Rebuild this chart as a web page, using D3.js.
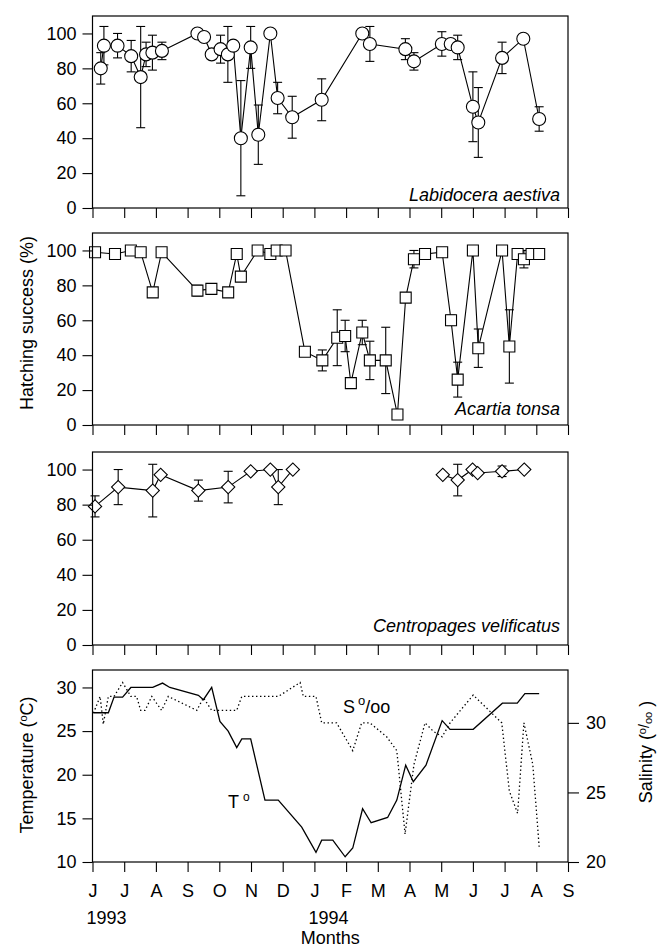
<!DOCTYPE html>
<html>
<head>
<meta charset="utf-8">
<script src="https://cdn.jsdelivr.net/npm/d3@7"></script>
<style>
body { margin: 0; background: #fff; }
svg { font-family: "Liberation Sans", Arial, sans-serif; }
</style>
</head>
<body>
<svg width="660" height="947"></svg>
<script>
// month tick labels, Jun 1993 .. Sep 1994
const months = ['J', 'J', 'A', 'S', 'O', 'N', 'D', 'J', 'F', 'M', 'A', 'M', 'J', 'J', 'A', 'S'];

// Labidocera aestiva (x = months since 1 Jun 1993)
const laMonth = [0.26, 0.36, 0.79, 1.22, 1.52, 1.69, 1.89, 2.19, 3.31, 3.52, 3.76, 4.04, 4.27, 4.44, 4.68, 4.99, 5.23, 5.61, 5.84, 6.30, 7.23, 8.51, 8.75, 9.87, 10.14, 11.02, 11.30, 11.52, 12.00, 12.17, 12.92, 13.59, 14.09];
const laHatch = [80, 93, 93, 87, 75, 88, 89, 90, 100, 98, 88, 91, 88, 93, 40, 92, 42, 100, 63, 52, 62, 100, 94, 91, 84, 94, 94, 92, 58, 49, 86, 97, 51];
const laErr = [9, 11, 7, 9, 29, 7, 10, 5, 0, 0, 0, 8, 16, 0, 33, 12, 17, 0, 9, 12, 12, 0, 10, 6, 5, 7, 0, 7, 20, 20, 9, 0, 7];

// Acartia tonsa
const atMonth = [0.08, 0.71, 1.21, 1.52, 1.90, 2.18, 3.31, 3.75, 4.28, 4.55, 4.68, 5.21, 5.61, 5.81, 6.09, 6.70, 7.25, 7.72, 7.97, 8.15, 8.51, 8.75, 9.25, 9.62, 9.88, 10.14, 10.49, 11.03, 11.31, 11.52, 12.00, 12.17, 12.92, 13.15, 13.41, 13.61, 13.85, 14.09];
const atHatch = [99, 98, 100, 99, 76, 99, 77, 78, 76, 98, 85, 100, 98, 100, 100, 42, 37, 50, 51, 24, 53, 37, 37, 6, 73, 95, 98, 99, 60, 26, 100, 44, 100, 45, 98, 95, 98, 98];
const atErr = [0, 2, 0, 0, 0, 0, 3, 0, 0, 0, 0, 0, 0, 0, 0, 0, 6, 16, 9, 0, 7, 11, 19, 2, 0, 5, 0, 0, 3, 10, 0, 11, 0, 21, 2, 5, 0, 2];

// Centropages velificatus (two separate runs of samples)
const cvMonth = [0.08, 0.81, 1.90, 2.15, 3.34, 4.28, 4.99, 5.61, 5.86, 6.32, 11.05, 11.52, 11.99, 12.15, 12.92, 13.62];
const cvHatch = [79, 90, 88, 97, 88, 90, 99, 100, 90, 100, 97, 94, 100, 98, 99, 100];
const cvErr = [6, 10, 15, 0, 6, 9, 0, 0, 10, 0, 0, 9, 0, 0, 3, 0];
const cvRun = [0, 0, 0, 0, 0, 0, 0, 0, 0, 0, 1, 1, 1, 1, 1, 1];

// temperature (C)
const tMonth = [0.03, 0.50, 0.68, 0.95, 1.21, 1.90, 2.21, 2.44, 3.34, 3.50, 3.76, 4.02, 4.28, 4.55, 4.71, 4.99, 5.44, 5.86, 6.60, 7.05, 7.23, 7.58, 7.97, 8.21, 8.52, 8.79, 9.31, 9.60, 9.88, 10.12, 10.52, 11.03, 11.28, 12.01, 12.93, 13.40, 13.64, 14.09];
const tVal = [27.1, 27.1, 28.9, 28.9, 30.0, 30.0, 30.5, 30.0, 29.1, 28.6, 30.0, 26.1, 25.0, 23.1, 24.1, 24.1, 17.1, 17.1, 14.0, 11.1, 12.5, 12.5, 10.6, 11.6, 16.1, 14.5, 15.1, 17.1, 21.1, 19.2, 21.1, 26.2, 25.2, 25.2, 28.2, 28.2, 29.3, 29.3];

// salinity (per mille)
const sMonth = [0.03, 0.24, 0.34, 0.50, 0.68, 0.95, 1.21, 1.39, 1.52, 1.66, 1.87, 2.18, 2.39, 3.29, 3.50, 3.76, 4.55, 4.71, 5.86, 6.55, 6.65, 7.05, 7.23, 7.70, 8.21, 8.49, 8.75, 9.28, 9.60, 9.86, 10.14, 10.49, 10.75, 11.03, 11.28, 12.01, 12.91, 13.15, 13.41, 13.61, 13.89, 14.09];
const sVal = [30.7, 31.9, 29.9, 31.9, 31.9, 32.9, 31.9, 31.9, 30.9, 30.9, 31.9, 30.9, 31.9, 30.9, 31.8, 30.9, 30.9, 31.9, 31.9, 32.9, 31.9, 31.9, 30.0, 30.0, 28.0, 30.0, 30.0, 29.0, 28.0, 22.0, 27.0, 30.0, 29.4, 29.0, 30.0, 32.0, 30.0, 25.1, 23.5, 30.0, 27.0, 21.1];

const FONT = 18;
const svg = d3.select('svg');
const x = d3.scaleLinear().domain([0, 15]).range([92.5, 568]);

// clean up a d3 axis so it looks like the printed one
function styleAxis(g) {
    g.attr('font-family', null).attr('font-size', FONT);
    g.select('.domain').remove();
    g.selectAll('line').attr('stroke', '#000').attr('stroke-width', 1.1);
    g.selectAll('text').attr('fill', '#000');
}

// box round a panel
function drawFrame(top, bottom) {
    svg.append('rect')
        .attr('x', x(0))
        .attr('y', top)
        .attr('width', x(15) - x(0))
        .attr('height', bottom - top)
        .attr('fill', 'none')
        .attr('stroke', '#000')
        .attr('stroke-width', 1.2);
}

function drawMonthTicks(bottom, withLabels) {
    var axis = d3.axisBottom(x)
        .tickValues(d3.range(16))
        .tickSize(10)
        .tickPadding(12)
        .tickFormat(withLabels ? (i => months[i]) : '');
    var g = svg.append('g').attr('transform', `translate(0,${bottom})`).call(axis);
    styleAxis(g);
}

function drawLeftAxis(y, ticks) {
    var g = svg.append('g')
        .attr('transform', `translate(${x(0)},0)`)
        .call(d3.axisLeft(y).tickValues(ticks).tickSize(10).tickPadding(6));
    styleAxis(g);
}

// one hatching success panel
function drawHatchPanel(top, bottom, mo, val, err, run, shape, name, nameY) {
    var y = d3.scaleLinear().domain([0, 110]).range([bottom, top]);
    var idx = d3.range(mo.length);

    // error bars first, the markers cover them
    var bars = svg.append('g').attr('stroke', '#000').attr('stroke-width', 1.1);
    idx.filter(i => err[i] > 0).forEach(i => {
        var cx = x(mo[i]);
        var hi = y(val[i] + err[i]);
        var lo = y(val[i] - err[i]);
        bars.append('line').attr('x1', cx).attr('x2', cx).attr('y1', hi).attr('y2', lo);
        bars.append('line').attr('x1', cx - 4.5).attr('x2', cx + 4.5).attr('y1', hi).attr('y2', hi);
        bars.append('line').attr('x1', cx - 4.5).attr('x2', cx + 4.5).attr('y1', lo).attr('y2', lo);
    });

    var line = d3.line().x(i => x(mo[i])).y(i => y(val[i]));
    var groups = d3.groups(idx, i => run ? run[i] : 0);
    groups.forEach(gr => {
        svg.append('path')
            .attr('d', line(gr[1]))
            .attr('fill', 'none')
            .attr('stroke', '#000')
            .attr('stroke-width', 1.1);
    });

    var sym;
    if (shape === 'circle') sym = d3.symbol(d3.symbolCircle, Math.PI * 6.5 * 6.5);
    else if (shape === 'square') sym = d3.symbol(d3.symbolSquare, 121);
    else sym = d3.symbol(d3.symbolSquare, 88);
    svg.append('g').selectAll('path')
        .data(idx)
        .join('path')
        .attr('d', sym)
        .attr('transform', i => `translate(${x(mo[i])},${y(val[i])})` + (shape === 'diamond' ? ' rotate(45)' : ''))
        .attr('fill', '#fff')
        .attr('stroke', '#000')
        .attr('stroke-width', 1.1);

    drawFrame(top, bottom);
    drawLeftAxis(y, [0, 20, 40, 60, 80, 100]);
    drawMonthTicks(bottom, false);

    svg.append('text')
        .attr('x', 560)
        .attr('y', nameY)
        .attr('text-anchor', 'end')
        .attr('font-style', 'italic')
        .attr('font-size', FONT)
        .text(name);
}

drawHatchPanel(16, 208, laMonth, laHatch, laErr, null, 'circle', 'Labidocera aestiva', 201);
drawHatchPanel(233, 425, atMonth, atHatch, atErr, null, 'square', 'Acartia tonsa', 415);
drawHatchPanel(452, 645, cvMonth, cvHatch, cvErr, cvRun, 'diamond', 'Centropages velificatus', 632);

// temperature / salinity panel
var envTop = 670, envBottom = 862;
var yT = d3.scaleLinear().domain([10, 32]).range([envBottom, envTop]);
var yS = d3.scaleLinear().domain([20, 33.8]).range([envBottom, envTop]);

svg.append('path')
    .attr('d', d3.line().x(i => x(sMonth[i])).y(i => yS(sVal[i]))(d3.range(sMonth.length)))
    .attr('fill', 'none')
    .attr('stroke', '#000')
    .attr('stroke-width', 1.3)
    .attr('stroke-dasharray', '1.4,2.6');

svg.append('path')
    .attr('d', d3.line().x(i => x(tMonth[i])).y(i => yT(tVal[i]))(d3.range(tMonth.length)))
    .attr('fill', 'none')
    .attr('stroke', '#000')
    .attr('stroke-width', 1.3);

drawFrame(envTop, envBottom);
drawLeftAxis(yT, [10, 15, 20, 25, 30]);
var right = svg.append('g')
    .attr('transform', `translate(${x(15)},0)`)
    .call(d3.axisRight(yS).tickValues([20, 25, 30]).tickSize(11).tickPadding(7));
styleAxis(right);
drawMonthTicks(envBottom, true);

// in-plot labels for the two lines
var tLab = svg.append('text').attr('x', 228).attr('y', 808).attr('font-size', FONT);
tLab.append('tspan').text('T');
tLab.append('tspan').attr('dx', 4).attr('dy', -7).attr('font-size', 12).text('o');

var sLab = svg.append('text').attr('x', 343).attr('y', 713).attr('font-size', FONT);
sLab.append('tspan').text('S');
sLab.append('tspan').attr('dx', 3).attr('dy', -8).attr('font-size', 13).text('o');
sLab.append('tspan').attr('dy', 8).text('/oo');

// year labels and axis titles
svg.append('text').attr('x', x(0) - 6).attr('y', 924).attr('font-size', FONT).text('1993');
svg.append('text').attr('x', x(7) - 6).attr('y', 924).attr('font-size', FONT).text('1994');
svg.append('text').attr('x', x(7.5)).attr('y', 944).attr('text-anchor', 'middle').attr('font-size', FONT).text('Months');

svg.append('text')
    .attr('transform', 'translate(33,323) rotate(-90)')
    .attr('text-anchor', 'middle')
    .attr('font-size', FONT)
    .text('Hatching success (%)');

var tTitle = svg.append('text')
    .attr('transform', 'translate(33,765) rotate(-90)')
    .attr('text-anchor', 'middle')
    .attr('font-size', FONT);
tTitle.append('tspan').text('Temperature (');
tTitle.append('tspan').attr('dy', -6).attr('font-size', 11).text('o');
tTitle.append('tspan').attr('dy', 6).text('C)');

var sTitle = svg.append('text')
    .attr('transform', 'translate(652,752) rotate(-90)')
    .attr('text-anchor', 'middle')
    .attr('font-size', FONT);
sTitle.append('tspan').text('Salinity (');
sTitle.append('tspan').attr('dy', -6).attr('font-size', 11).text('o');
sTitle.append('tspan').attr('dy', 3).attr('font-size', 14).text('/');
sTitle.append('tspan').attr('dy', 3).attr('font-size', 11).text('oo');
sTitle.append('tspan').attr('dy', 0).text(' )');
</script>
</body>
</html>
